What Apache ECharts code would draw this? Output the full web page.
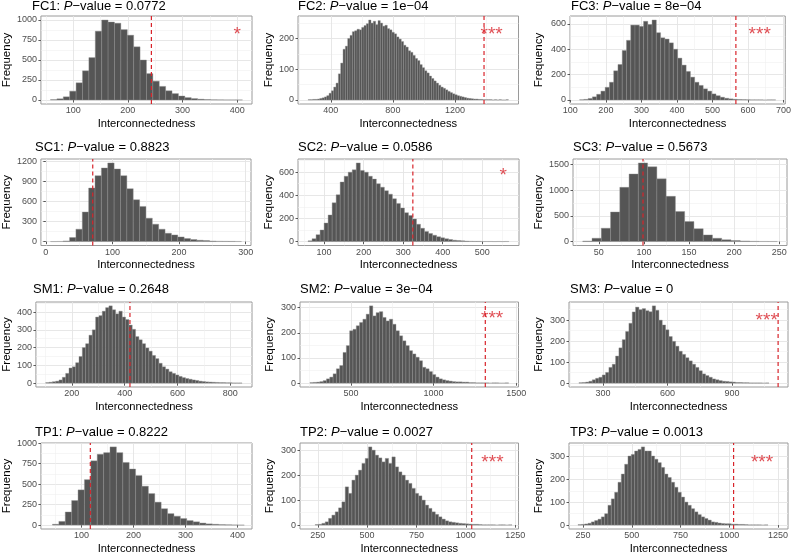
<!DOCTYPE html>
<html>
<head>
<meta charset="utf-8">
<script src="https://cdn.jsdelivr.net/npm/echarts@6/dist/echarts.min.js"></script>
<style>
html, body { margin: 0; padding: 0; background: #fff; }
#chart { width: 794px; height: 555px; }
</style>
</head>
<body>
<div id="chart"></div>
<script>
// panel labels and test results
const panelNames = ['FC1', 'FC2', 'FC3', 'SC1', 'SC2', 'SC3', 'SM1', 'SM2', 'SM3', 'TP1', 'TP2', 'TP3'];
const pValues = ['0.0772', '1e\u221204', '8e\u221204', '0.8823', '0.0586', '0.5673', '0.2648', '3e\u221204', '0', '0.8222', '0.0027', '0.0013'];
// observed interconnectedness (red dashed line)
const observed = [243, 1387, 566, 70.4, 324.5, 99, 420, 1313, 1114, 117, 1030, 1022];
// significance stars and where they sit
const stars = ['*', '***', '***', '', '*', '', '', '***', '***', '', '***', '***'];
const starX = [400, 1436, 633, 0, 553, 0, 0, 1354, 1061, 0, 1135, 1168];
const starY = [815, 212, 516, 0, 569, 0, 0, 256, 299, 0, 249, 272];

// histogram bins: first bin edge and bin width
const binStart = [58.5, 254, 126, 6.9, 59.4, 32.2, 101, 251, 188, 44.2, 237, 224];
const binWidth = [11.7, 15, 12, 9.56, 10.16, 10.27, 12.6, 20.05, 15.5, 12.3, 16.9, 17.09];

// permutation counts per bin
const fc1Counts = [5, 15, 40, 110, 215, 365, 530, 860, 1000, 975, 960, 880, 810, 665, 500, 330, 235, 170, 115, 80, 50, 30, 18, 10, 6, 3, 2, 1, 1, 1];
const fc2Counts = [1, 1, 2, 2, 3, 5, 7, 10, 14, 22, 30, 42, 55, 85, 120, 165, 175, 200, 210, 222, 225, 230, 228, 236, 242, 248, 260, 250, 256, 245, 258, 250, 240, 243, 232, 228, 220, 215, 205, 198, 190, 178, 172, 160, 155, 145, 135, 128, 115, 105, 95, 88, 78, 70, 62, 55, 48, 42, 38, 33, 28, 24, 20, 17, 14, 12, 10, 8, 6, 5, 4, 3, 3, 2, 2, 1, 1, 1, 1, 0, 1, 0, 1, 0, 0, 1];
const fc3Counts = [2, 5, 12, 25, 45, 70, 100, 140, 230, 280, 390, 470, 590, 590, 580, 620, 595, 630, 530, 490, 480, 450, 400, 330, 275, 225, 180, 140, 115, 88, 70, 48, 34, 22, 14, 9, 6, 4, 3, 2, 1, 1, 1, 0, 1, 1];
const sc1Counts = [0, 2, 10, 60, 185, 440, 800, 985, 1100, 1175, 1085, 985, 790, 625, 525, 350, 260, 185, 125, 100, 70, 45, 30, 20, 15, 8, 5, 4, 3, 2];
const sc2Counts = [6, 25, 60, 100, 160, 230, 335, 405, 515, 565, 600, 620, 680, 615, 600, 565, 540, 500, 470, 440, 410, 370, 330, 290, 250, 225, 195, 150, 115, 88, 70, 55, 42, 32, 24, 17, 12, 9, 6, 4, 3, 2, 2, 1, 1, 1, 0, 1, 0, 1];
const sc3Counts = [10, 65, 260, 575, 1055, 1315, 1530, 1455, 1220, 880, 585, 390, 250, 130, 65, 35, 20, 12, 5, 3, 2];
const sm1Counts = [3, 5, 8, 11, 18, 33, 55, 85, 92, 115, 150, 200, 222, 270, 300, 372, 380, 405, 425, 435, 413, 390, 405, 372, 358, 327, 303, 262, 244, 222, 198, 180, 156, 138, 112, 92, 79, 64, 55, 46, 38, 31, 26, 22, 18, 15, 11, 9, 7, 6, 5, 4, 3, 3, 2, 2, 1, 1, 1];
const sm2Counts = [2, 3, 4, 6, 10, 17, 24, 37, 57, 70, 122, 149, 208, 214, 228, 241, 254, 274, 307, 267, 280, 284, 261, 247, 254, 234, 208, 188, 168, 149, 129, 116, 103, 89, 63, 57, 46, 34, 24, 17, 13, 10, 8, 6, 5, 5, 4, 4, 2, 2, 1, 1, 1, 1, 0, 1, 1, 0, 0, 1];
const sm3Counts = [2, 3, 5, 9, 16, 23, 28, 39, 51, 75, 90, 129, 168, 207, 246, 285, 339, 362, 350, 355, 345, 340, 368, 347, 300, 277, 254, 222, 199, 176, 152, 137, 121, 106, 90, 75, 59, 44, 36, 28, 20, 16, 12, 9, 8, 6, 5, 3, 3, 2, 2, 1, 1, 1, 1, 0, 1];
const tp1Counts = [10, 45, 160, 300, 430, 555, 785, 865, 885, 955, 885, 765, 685, 605, 475, 385, 280, 200, 140, 108, 80, 55, 40, 25, 15, 10, 6, 4, 2, 1];
const tp2Counts = [2, 3, 7, 13, 27, 40, 53, 69, 93, 153, 127, 180, 200, 220, 247, 267, 313, 300, 280, 269, 253, 267, 247, 273, 233, 213, 200, 180, 167, 147, 127, 117, 100, 80, 67, 53, 43, 33, 24, 17, 13, 11, 9, 7, 6, 5, 4, 3, 3, 2, 1, 1, 1, 1, 0, 1, 1, 0, 1];
const tp3Counts = [2, 3, 5, 8, 14, 20, 26, 36, 50, 87, 115, 144, 188, 224, 267, 303, 310, 325, 332, 343, 325, 325, 303, 289, 274, 253, 224, 209, 188, 166, 144, 123, 101, 87, 72, 58, 46, 36, 29, 22, 14, 12, 9, 7, 6, 6, 4, 4, 3, 3, 2, 1, 1, 1, 1, 0, 1];
const allCounts = [fc1Counts, fc2Counts, fc3Counts, sc1Counts, sc2Counts, sc3Counts, sm1Counts, sm2Counts, sm3Counts, tp1Counts, tp2Counts, tp3Counts];

// x axis limits and tick labels
const xMin = [41, 189, 99, -7.4, 34, 21.4, 64, 191, 142, 22, 160, 178];
const xMax = [427, 1609, 705, 308, 593, 258.6, 882, 1514, 1160, 428, 1267, 1301];
const xTicks = [
    [100, 200, 300, 400], [400, 800, 1200], [100, 200, 300, 400, 500, 600, 700],
    [0, 100, 200, 300], [100, 200, 300, 400, 500], [50, 100, 150, 200, 250],
    [200, 400, 600, 800], [500, 1000, 1500], [300, 600, 900],
    [100, 200, 300, 400], [250, 500, 750, 1000, 1250], [250, 500, 750, 1000, 1250]
];
const yTicks = [
    [0, 250, 500, 750, 1000], [0, 100, 200], [0, 200, 400, 600],
    [0, 300, 600, 900, 1200], [0, 200, 400, 600], [0, 500, 1000, 1500],
    [0, 100, 200, 300, 400], [0, 100, 200, 300], [0, 100, 200, 300],
    [0, 250, 500, 750, 1000], [0, 100, 200, 300], [0, 100, 200, 300]
];

// layout of the 4 x 3 panels (pixels)
const gridLeft = [38, 298, 570, 38, 298, 573, 35, 300, 569, 35, 300, 569];
const gridRight = [252, 518.5, 788, 251, 519, 787, 252, 518.5, 788, 252, 518.5, 788];
const rowTop = [16, 159, 302, 443];
const rowBottom = [104, 245.5, 387, 530.5];
const titleLeft = [32, 298, 571, 35, 298, 573, 33, 300, 570, 35, 300, 570];
const titleTop = [0, 140.5, 283, 425.5];
const freqX = [6.5, 269.5, 538.5];

const FONT = '"Liberation Sans", Arial, sans-serif';
const RED = '#d8232a';

// minor grid lines half way between major breaks (like ggplot)
function minorOf(ticks, lo, hi) {
    const step = ticks[1] - ticks[0];
    const out = [];
    for (let v = ticks[0] - step / 2; v < hi; v += step) {
        if (v > lo) out.push(v);
    }
    return out;
}

function renderBar(params, api) {
    const top = api.coord([api.value(0), api.value(2)]);
    const base = api.coord([api.value(1), 0]);
    return {
        type: 'rect',
        shape: { x: top[0], y: top[1], width: base[0] - top[0], height: base[1] - top[1] },
        style: { fill: '#555555', stroke: '#8f8f8f', lineWidth: 0.4 }
    };
}

const plain = v => String(v);

const option = { animation: false, title: [], grid: [], xAxis: [], yAxis: [], series: [] };

panelNames.forEach((name, i) => {
    const row = Math.floor(i / 3), col = i % 3;
    const counts = allCounts[i];
    const peak = Math.max(...counts);
    const yLo = -0.05 * peak, yHi = 1.05 * peak;

    option.title.push({
        text: name + ': {i|P}\u2212value = ' + pValues[i],
        left: titleLeft[i],
        top: titleTop[row],
        padding: 0,
        textStyle: {
            fontFamily: FONT, fontSize: 13, fontWeight: 'normal', color: '#000',
            rich: { i: { fontFamily: FONT, fontSize: 13, fontStyle: 'italic', color: '#000' } }
        }
    });

    option.grid.push({
        left: gridLeft[i], top: rowTop[row],
        width: gridRight[i] - gridLeft[i], height: rowBottom[row] - rowTop[row],
        show: true, backgroundColor: '#fff', borderColor: '#9a9a9a', borderWidth: 1
    });

    // main x axis
    option.xAxis.push({
        type: 'value', gridIndex: i, min: xMin[i], max: xMax[i],
        name: 'Interconnectedness', nameLocation: 'middle', nameGap: 19.5,
        nameTextStyle: { fontFamily: FONT, fontSize: 11.2, color: '#000', verticalAlign: 'middle' },
        axisLine: { show: false },
        axisTick: { show: true, length: 2.5, customValues: xTicks[i], lineStyle: { color: '#333', width: 0.8 } },
        axisLabel: { customValues: xTicks[i], formatter: plain, margin: 2.5, fontFamily: FONT, fontSize: 9, color: '#4d4d4d' },
        splitLine: { show: true, lineStyle: { color: '#e4e4e4', width: 0.9 } }
    });
    // minor x grid
    option.xAxis.push({
        type: 'value', gridIndex: i, min: xMin[i], max: xMax[i], position: 'top',
        axisLine: { show: false }, axisLabel: { show: false },
        axisTick: { show: false, customValues: minorOf(xTicks[i], xMin[i], xMax[i]) },
        splitLine: { show: true, lineStyle: { color: '#f0f0f0', width: 0.6 } }
    });

    option.yAxis.push({
        type: 'value', gridIndex: i, min: yLo, max: yHi,
        name: 'Frequency', nameLocation: 'middle', nameGap: gridLeft[i] - freqX[col],
        nameTextStyle: { fontFamily: FONT, fontSize: 11.5, color: '#000', verticalAlign: 'middle' },
        axisLine: { show: false },
        axisTick: { show: true, length: 2.5, customValues: yTicks[i], lineStyle: { color: '#333', width: 0.8 } },
        axisLabel: { customValues: yTicks[i], formatter: plain, margin: 4, fontFamily: FONT, fontSize: 9, color: '#4d4d4d' },
        splitLine: { show: true, lineStyle: { color: '#e4e4e4', width: 0.9 } }
    });
    option.yAxis.push({
        type: 'value', gridIndex: i, min: yLo, max: yHi, position: 'right',
        axisLine: { show: false }, axisLabel: { show: false },
        axisTick: { show: false, customValues: minorOf(yTicks[i], yLo, yHi) },
        splitLine: { show: true, lineStyle: { color: '#f0f0f0', width: 0.6 } }
    });

    option.series.push({
        type: 'custom',
        xAxisIndex: 2 * i, yAxisIndex: 2 * i,
        clip: true,
        renderItem: renderBar,
        encode: { x: [0, 1], y: 2 },
        data: counts.map((c, k) => [binStart[i] + k * binWidth[i], binStart[i] + (k + 1) * binWidth[i], c])
    });

    // observed value: dashed vertical line across the panel
    option.series.push({
        type: 'line',
        xAxisIndex: 2 * i, yAxisIndex: 2 * i,
        z: 5, silent: true, symbol: 'none',
        lineStyle: { color: RED, type: [4, 3], width: 1.2 },
        data: [[observed[i], yLo], [observed[i], yHi]]
    });

    if (stars[i]) {
        option.series.push({
            type: 'scatter',
            xAxisIndex: 2 * i, yAxisIndex: 2 * i,
            z: 6, silent: true,
            symbolSize: 1, itemStyle: { color: 'rgba(0,0,0,0)' },
            data: [[starX[i], starY[i]]],
            label: {
                show: true, position: 'inside', formatter: stars[i],
                fontFamily: FONT, fontSize: 19, color: RED
            }
        });
    }
});

const chart = echarts.init(document.getElementById('chart'));
chart.setOption(option);
</script>
</body>
</html>
